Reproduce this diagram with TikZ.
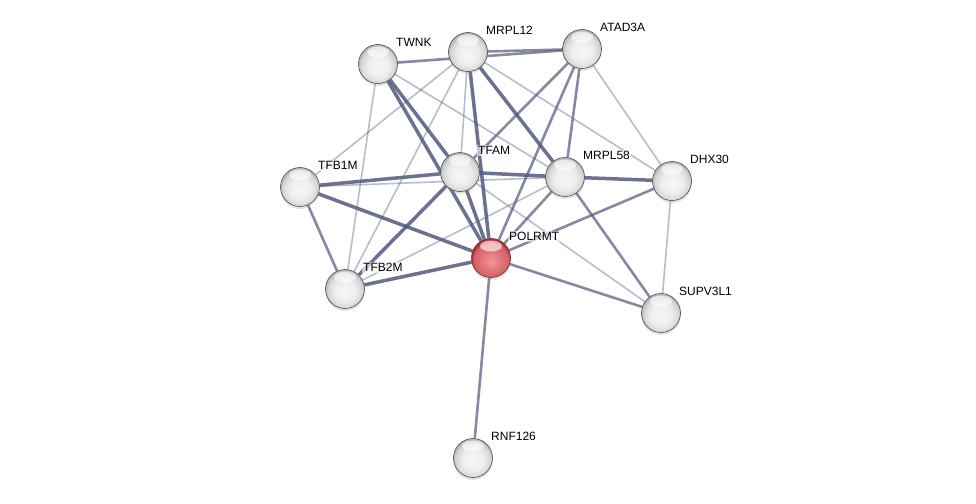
\documentclass[tikz,border=0pt]{standalone}
\usepackage{fontspec}
\setmainfont{Liberation Sans}
\usepackage{xcolor}
\usepackage{tikz}
\usetikzlibrary{positioning,shadows,backgrounds}
\definecolor{edgecol}{RGB}{82,89,126}
\definecolor{redlight}{RGB}{240,150,152}
\definecolor{redmid}{RGB}{214,98,104}
\definecolor{reddark}{RGB}{168,52,60}
\pgfdeclareradialshading{greyball}{\pgfpoint{0bp}{-4bp}}{color(0bp)=(gray!6); color(14bp)=(gray!14); color(22bp)=(gray!32); color(25bp)=(gray!55); color(50bp)=(gray!55)}
\pgfdeclareradialshading{redball}{\pgfpoint{0bp}{-5bp}}{color(0bp)=(redlight); color(14bp)=(redmid!70!redlight); color(22bp)=(redmid); color(25bp)=(reddark); color(50bp)=(reddark)}
\tikzstyle{protein} = [circle, minimum size=39pt, inner sep=0pt, draw=gray!60!black, line width=0.6pt, shading=greyball, drop shadow={opacity=0.22, shadow xshift=0pt, shadow yshift=-2.5pt}, path picture={\fill[white, opacity=0.6] ([yshift=-7.5pt]path picture bounding box.north) ellipse (11pt and 5.5pt);}]
\tikzstyle{query} = [protein, shading=redball, draw=reddark!70!black]
\tikzstyle{protlabel} = [font=\fontsize{12}{14}\selectfont, inner sep=1pt, text height=9pt, text depth=0pt, fill=white, fill opacity=0.6, text opacity=1]
\tikzstyle{strongedge} = [edgecol, line width=3.5pt, opacity=0.85]
\tikzstyle{midedge} = [edgecol, line width=2.6pt, opacity=0.7]
\tikzstyle{weakedge} = [edgecol, line width=1.6pt, opacity=0.4]

\begin{document}
\begin{tikzpicture}[x=1pt, y=-1pt]
	\node (twnk) [protein] at (378,64) {};
	\node (mrpl12) [protein] at (468,52) {};
	\node (atad3a) [protein] at (582,49) {};
	\node (tfb1m) [protein] at (300,187) {};
	\node (tfam) [protein] at (460,172) {};
	\node (mrpl58) [protein] at (565,177) {};
	\node (dhx30) [protein] at (672,181) {};
	\node (polrmt) [query] at (491,258) {};
	\node (tfb2m) [protein] at (345,289) {};
	\node (supv3l1) [protein] at (661,313) {};
	\node (rnf126) [protein] at (473,458) {};

	\node (twnklabel) [protlabel, above right=2pt and 3pt of twnk] {TWNK};
	\node (mrpl12label) [protlabel, above right=2pt and 3pt of mrpl12] {MRPL12};
	\node (atad3alabel) [protlabel, above right=2pt and 3pt of atad3a] {ATAD3A};
	\node (tfb1mlabel) [protlabel, above right=2pt and 3pt of tfb1m] {TFB1M};
	\node (tfamlabel) [protlabel, above right=2pt and 3pt of tfam] {TFAM};
	\node (mrpl58label) [protlabel, above right=2pt and 3pt of mrpl58] {MRPL58};
	\node (dhx30label) [protlabel, above right=2pt and 3pt of dhx30] {DHX30};
	\node (polrmtlabel) [protlabel, above right=2pt and 3pt of polrmt] {POLRMT};
	\node (tfb2mlabel) [protlabel, above right=2pt and 3pt of tfb2m] {TFB2M};
	\node (supv3l1label) [protlabel, above right=2pt and 3pt of supv3l1] {SUPV3L1};
	\node (rnf126label) [protlabel, above right=2pt and 3pt of rnf126] {RNF126};

	\begin{scope}[on background layer]
	\fill [white] (0,0) rectangle (976,503);
	% weak links
	\draw [weakedge] (twnk) -- (tfb2m);
	\draw [weakedge] (twnk) -- (mrpl58);
	\draw [weakedge] (mrpl12) -- (tfb1m);
	\draw [weakedge] (mrpl12) -- (tfb2m);
	\draw [weakedge] (mrpl12) -- (tfam);
	\draw [weakedge] (mrpl12) -- (dhx30);
	\draw [weakedge] (atad3a) -- (dhx30);
	\draw [weakedge] (tfb1m) -- (mrpl58);
	\draw [weakedge] (mrpl58) -- (tfb2m);
	\draw [weakedge] (tfam) -- (supv3l1);
	\draw [weakedge] (dhx30) -- (supv3l1);
	% medium links
	\draw [midedge] (twnk) -- (atad3a);
	\draw [midedge] (mrpl12) -- (atad3a);
	\draw [midedge] (atad3a) -- (tfam);
	\draw [midedge] (atad3a) -- (polrmt);
	\draw [midedge] (atad3a) -- (mrpl58);
	\draw [midedge] (tfb1m) -- (tfb2m);
	\draw [midedge] (mrpl58) -- (polrmt);
	\draw [midedge] (mrpl58) -- (supv3l1);
	\draw [midedge] (polrmt) -- (dhx30);
	\draw [midedge] (polrmt) -- (supv3l1);
	\draw [midedge] (polrmt) -- (rnf126);
	% strong links
	\draw [strongedge] (twnk) -- (tfam);
	\draw [strongedge] (twnk) -- (polrmt);
	\draw [strongedge] (mrpl12) -- (mrpl58);
	\draw [strongedge] (mrpl12) -- (polrmt);
	\draw [strongedge] (tfb1m) -- (tfam);
	\draw [strongedge] (tfb1m) -- (polrmt);
	\draw [strongedge] (tfam) -- (polrmt);
	\draw [strongedge] (tfam) -- (tfb2m);
	\draw [strongedge] (tfam) -- (mrpl58);
	\draw [strongedge] (tfb2m) -- (polrmt);
	\draw [strongedge] (mrpl58) -- (dhx30);
	\end{scope}
\end{tikzpicture}
\end{document}
